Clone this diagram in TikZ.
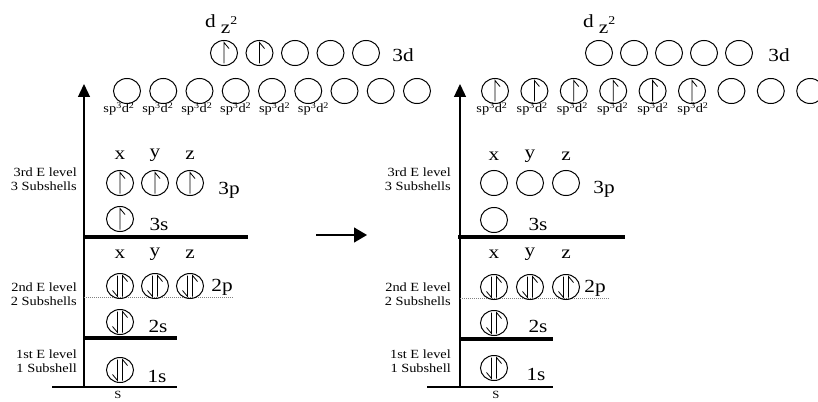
\documentclass[tikz,border=0pt]{standalone}
\usepackage{fontspec}
\setmainfont{Liberation Serif}[FakeStretch=1.15]
\usetikzlibrary{calc,positioning,arrows.meta,shapes.geometric}

% electrons: #1 = sideways offset, #2 = orbital node
\newcommand{\spinup}[2][0]{\draw[spin] ([shift={(#1,10.5)}]#2.center) -- ++(0,-21) -- ++(5,6);}
\newcommand{\spindn}[2][0]{\draw[spin] ([shift={(#1,-10.5)}]#2.center) -- ++(0,21) -- ++(-5,-6);}
\newcommand{\spinpair}[1]{\spindn[-2.5]{#1}\spinup[2.5]{#1}}

\begin{document}
\begin{tikzpicture}[x=1pt,y=-1pt,
    orb/.style={ellipse,draw,line width=1pt,minimum width=27pt,minimum height=25pt,inner sep=0pt},
    spin/.style={line width=0.8pt},
    sub/.style={font=\fontsize{18.5}{18.5}\selectfont,inner sep=0pt},
    lvl/.style={font=\fontsize{12.5}{14.5}\selectfont,align=right,anchor=east,inner sep=0pt},
    hyb/.style={font=\fontsize{12.5}{12.5}\selectfont,inner sep=0pt},
    bar/.style={line width=3.8pt},
    floor/.style={line width=1.2pt},
    gap/.style={gray,line width=0.4pt,dash pattern=on 1pt off 1pt},
    axis/.style={line width=1.3pt,-{Triangle[length=13pt,width=12pt]}}]

    \useasboundingbox (0,0) rectangle (818,401);

    % ground state
    \coordinate (Lo) at (84,387);
    \coordinate (Ltop) at (84,84);
    \draw[axis] (Lo) -- (Ltop);
    \coordinate (Lf1) at (52,387);  \coordinate (Lf2) at (177,387);
    \coordinate (Lb1) at (83,338);  \coordinate (Lb2) at (177,338);
    \coordinate (Lc1) at (83,237);  \coordinate (Lc2) at (248,237);
    \coordinate (Lg1) at (84,297);  \coordinate (Lg2) at (233,297);
    \draw[floor] (Lf1) -- (Lf2);
    \draw[bar] (Lb1) -- (Lb2);
    \draw[bar] (Lc1) -- (Lc2);
    \draw[gap] (Lg1) -- (Lg2);

    \node[lvl] (Llv1) at (77,361) {1st E level\\1 Subshell};
    \node[lvl] (Llv2) at (77,294) {2nd E level\\2 Subshells};
    \node[lvl] (Llv3) at (77,179) {3rd E level\\3 Subshells};
    \node[font=\fontsize{11}{11}\selectfont,inner sep=0pt] (Ls) at (118,395) {S};

    \node[orb] (L1s) at (120,370) {};
    \node[orb] (L2s) at (120,322) {};
    \node[orb] (L3s) at (120,219) {};
    \node[sub] (L1sl) at (157,376) {1s};
    \node[sub] (L2sl) at (158,326) {2s};
    \node[sub] (L3sl) at (159,224) {3s};
    \foreach \o/\x in {x/120,y/155,z/190} {
      \node[orb] (L2p\o) at (\x,286) {};
      \node[orb] (L3p\o) at (\x,183) {};
      \node[sub] (L2p\o l) at (\x,254) {\o};
      \node[sub] (L3p\o l) at (\x,155) {\o};
    }
    \node[sub] (L2pl) at (222,287) {2p};
    \node[sub] (L3pl) at (229,190) {3p};

    \foreach \i in {0,...,8}
      \node[orb] (Lh\i) at ({127+36.25*\i},91) {};
    \foreach \i in {0,...,5}
      \node[hyb] (Lhl\i) at ({119+38.9*\i},109) {sp\textsuperscript{3}d\textsuperscript{2}};
    \foreach \i in {1,...,5}
      \node[orb] (Ld\i) at ({188.5+35.5*\i},53) {};
    \node[sub] (Ldl) at (403,55) {3d};
    \node[sub,anchor=west] (Ldz) at (205,24) {d\hspace{5pt}\raisebox{-6pt}{z}\raisebox{3pt}{\fontsize{12}{12}\selectfont 2}};

    \spinpair{L1s} \spinpair{L2s}
    \spinpair{L2px} \spinpair{L2py} \spinpair{L2pz}
    \spinup{L3s}
    \spinup{L3px} \spinup{L3py} \spinup{L3pz}
    \spinup{Ld1} \spinup{Ld2}

    % middle arrow
    \coordinate (Ma) at (316,235);
    \coordinate (Mb) at (367,235);
    \draw[line width=1.2pt,-{Triangle[length=13pt,width=15pt]}] (Ma) -- (Mb);

    % hybridised state
    \coordinate (Ro) at (460,387);
    \coordinate (Rtop) at (460,84);
    \draw[axis] (Ro) -- (Rtop);
    \coordinate (Rf1) at (427,387); \coordinate (Rf2) at (553,387);
    \coordinate (Rb1) at (459,339); \coordinate (Rb2) at (553,339);
    \coordinate (Rc1) at (458,237); \coordinate (Rc2) at (625,237);
    \coordinate (Rg1) at (460,298); \coordinate (Rg2) at (610,298);
    \draw[floor] (Rf1) -- (Rf2);
    \draw[bar] (Rb1) -- (Rb2);
    \draw[bar] (Rc1) -- (Rc2);
    \draw[gap] (Rg1) -- (Rg2);

    \node[lvl] (Rlv1) at (451,361) {1st E level\\1 Subshell};
    \node[lvl] (Rlv2) at (451,294) {2nd E level\\2 Subshells};
    \node[lvl] (Rlv3) at (451,179) {3rd E level\\3 Subshells};
    \node[font=\fontsize{11}{11}\selectfont,inner sep=0pt] (Rs) at (496,395) {S};

    \node[orb] (R1s) at (494,368) {};
    \node[orb] (R2s) at (494,323) {};
    \node[orb] (R3s) at (494,220) {};
    \node[sub] (R1sl) at (536,374) {1s};
    \node[sub] (R2sl) at (538,326) {2s};
    \node[sub] (R3sl) at (538,224) {3s};
    \foreach \o/\x in {x/494,y/530,z/566} {
      \node[orb] (R2p\o) at (\x,287) {};
      \node[orb] (R3p\o) at (\x,183) {};
      \node[sub] (R2p\o l) at (\x,254) {\o};
      \node[sub] (R3p\o l) at (\x,156) {\o};
    }
    \node[sub] (R2pl) at (595,288) {2p};
    \node[sub] (R3pl) at (604,189) {3p};

    \foreach \i in {0,...,8}
      \node[orb] (Rh\i) at ({495+39.4*\i},91) {};
    \foreach \i in {0,...,5}
      \node[hyb] (Rhl\i) at ({492+40.2*\i},109) {sp\textsuperscript{3}d\textsuperscript{2}};
    \foreach \i in {1,...,5}
      \node[orb] (Rd\i) at ({564+35*\i},53) {};
    \node[sub] (Rdl) at (779,55) {3d};
    \node[sub,anchor=west] (Rdz) at (583,24) {d\hspace{5pt}\raisebox{-6pt}{z}\raisebox{3pt}{\fontsize{12}{12}\selectfont 2}};

    \spinpair{R1s} \spinpair{R2s}
    \spinpair{R2px} \spinpair{R2py} \spinpair{R2pz}
    \foreach \i in {0,...,5} {\spinup{Rh\i}}

\end{tikzpicture}
\end{document}
